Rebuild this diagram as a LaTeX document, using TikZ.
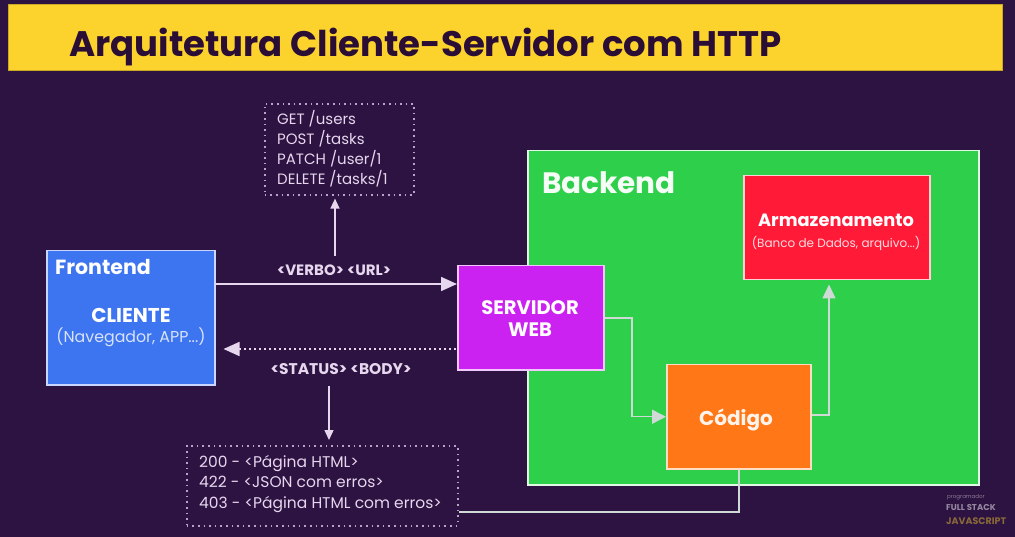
\documentclass[tikz,border=0pt]{standalone}
\usepackage{fontspec}
\setmainfont{Poppins}
\usetikzlibrary{arrows.meta}
\definecolor{bg}{HTML}{2D1341}
\definecolor{ttl}{HTML}{FCD22C}
\definecolor{ttltext}{HTML}{2A0E36}
\definecolor{lav}{HTML}{E6D6EE}
\definecolor{dotc}{HTML}{B9A3C6}
\definecolor{fblue}{HTML}{3D74EF}
\definecolor{bgreen}{HTML}{2ECF4B}
\definecolor{sred}{HTML}{FF1A37}
\definecolor{wpurp}{HTML}{CB22F2}
\definecolor{corange}{HTML}{FF7717}
\definecolor{soft}{HTML}{C9D6FF}
\begin{document}
\begin{tikzpicture}[x=1pt,y=-1pt,
  box/.style={draw=#1, line width=1.5pt, anchor=north west, inner sep=0pt},
  dotbox/.style={draw=dotc, line width=1.6pt, dash pattern=on 1.6pt off 4pt, anchor=north west, inner sep=0pt},
  lbl/.style={text=white, inner sep=0pt},
  arr/.style={draw=lav, line width=1.6pt, -{Triangle[length=16pt,width=14pt]}},
  arrs/.style={draw=lav, line width=1.4pt, -{Triangle[length=10pt,width=9pt]}},
  conn/.style={draw=lav!90!green, line width=1.4pt},
]
\fill[bg] (0,0) rectangle (1015,537);
\useasboundingbox (0,0) rectangle (1015,537);

% title
\node[fill=ttl, draw=ttl!80!black, line width=1pt, minimum width=994pt, minimum height=66pt, anchor=north west, inner sep=0pt] (titlebar) at (8,4) {};
\node[anchor=base west, inner sep=0pt, text=ttltext, font=\fontsize{35.5}{40}\selectfont\bfseries] (title) at (69,57) {Arquitetura Cliente-Servidor com HTTP};

% backend
\node[box=white!85!bgreen, fill=bgreen, minimum width=451pt, minimum height=334pt] (backend) at (527,150) {};
\node[lbl, anchor=base west, font=\fontsize{29.5}{34}\selectfont\bfseries, text=white!95!bgreen] (backendlbl) at (542,194) {Backend};

% armazenamento
\node[box=white!80!sred, fill=sred, minimum width=186pt, minimum height=104pt] (arm) at (743,175) {};
\node[lbl, font=\fontsize{17.8}{20}\selectfont\bfseries] (armlbl) at (836,220) {Armazenamento};
\node[lbl, text=white!85!sred, font=\fontsize{12}{14}\selectfont] (armsub) at (836,243) {(Banco de Dados, arquivo...)};

% servidor web
\node[box=white!75!wpurp, fill=wpurp, minimum width=146pt, minimum height=104pt] (srv) at (457,265) {};
\node[lbl, align=center, font=\fontsize{19.5}{22}\selectfont\bfseries] (srvlbl) at (530,319) {SERVIDOR\\WEB};

% codigo
\node[box=white!75!corange, fill=corange, minimum width=144pt, minimum height=104pt] (cod) at (666,364) {};
\node[lbl, font=\fontsize{20}{24}\selectfont\bfseries, text=white!92!corange] (codlbl) at (736,420) {Código};

% frontend
\node[box=soft, fill=fblue, minimum width=168pt, minimum height=134pt] (front) at (46,250) {};
\node[lbl, anchor=base west, font=\fontsize{20.5}{24}\selectfont\bfseries] (frontlbl) at (55,275) {Frontend};
\node[lbl, font=\fontsize{20}{24}\selectfont\bfseries] (cli) at (131,315) {CLIENTE};
\node[lbl, text=white!80!fblue, font=\fontsize{15.8}{19}\selectfont] (clisub) at (131,337) {(Navegador, APP...)};

% verbs box
\node[dotbox, minimum width=149pt, minimum height=91pt] (verbs) at (264,103) {};
\node[anchor=north west, inner sep=0pt, align=left, text=lav, font=\fontsize{15}{20}\selectfont] (verbtxt) at (277,110) {GET /users\\POST /tasks\\PATCH /user/1\\DELETE /tasks/1};

% response box
\node[dotbox, minimum width=271pt, minimum height=80pt] (resp) at (186,445) {};
\node[anchor=north west, inner sep=0pt, align=left, text=lav, font=\fontsize{15.5}{20.5}\selectfont] (resptxt) at (199,455) {200 - <Página HTML>\\422 - <JSON com erros>\\403 - <Página HTML com erros>};

% request / response arrows
\coordinate (reqs) at (215,284);
\coordinate (ress) at (456,349);
\draw[arr] (reqs) -- (reqs -| srv.west);
\node[lbl, text=lav, font=\fontsize{15}{17}\selectfont\bfseries] (reqlbl) at (334,270) {<VERBO> <URL>};
\draw[arr, dash pattern=on 2pt off 3pt] (ress) -- ([xshift=8pt]ress -| front.east);
\node[lbl, text=lav, font=\fontsize{15.5}{18}\selectfont\bfseries] (reslbl) at (341,369) {<STATUS> <BODY>};

% up to verbs, down to response
\coordinate (upstart) at (335,256);
\draw[arrs] (upstart) -- ([yshift=-3pt]upstart |- verbs.south);
\coordinate (downstart) at (329,386);
\draw[arrs] (downstart) -- ([yshift=5pt]downstart |- resp.north);

% backend internal connectors
\coordinate (b1) at (632,318);
\coordinate (b2) at (829,415);
\draw[conn, -{Triangle[length=14pt,width=14pt]}] (srv.east |- b1) -- (b1) -- (b1 |- cod.west) -- (cod.west);
\draw[conn, -{Triangle[length=14pt,width=13pt]}] (cod.east |- b2) -- (b2) -- ([yshift=-4pt]b2 |- arm.south);
\coordinate (b3) at (739,512);
\draw[conn] (b3 |- cod.south) -- (b3) -- (b3 -| resp.east);

% watermark
\node[anchor=base west, inner sep=0pt, text=white!45!bg, font=\fontsize{5.5}{6}\selectfont] (wm1) at (947,498) {programador};
\node[anchor=base west, inner sep=0pt, text=white!50!bg, font=\fontsize{8.5}{10}\selectfont\bfseries] (wm2) at (946,510) {FULL STACK};
\node[anchor=base west, inner sep=0pt, text=ttl!45!bg, font=\fontsize{9.5}{11}\selectfont\bfseries] (wm3) at (946,524) {JAVASCRIPT};
\end{tikzpicture}
\end{document}
